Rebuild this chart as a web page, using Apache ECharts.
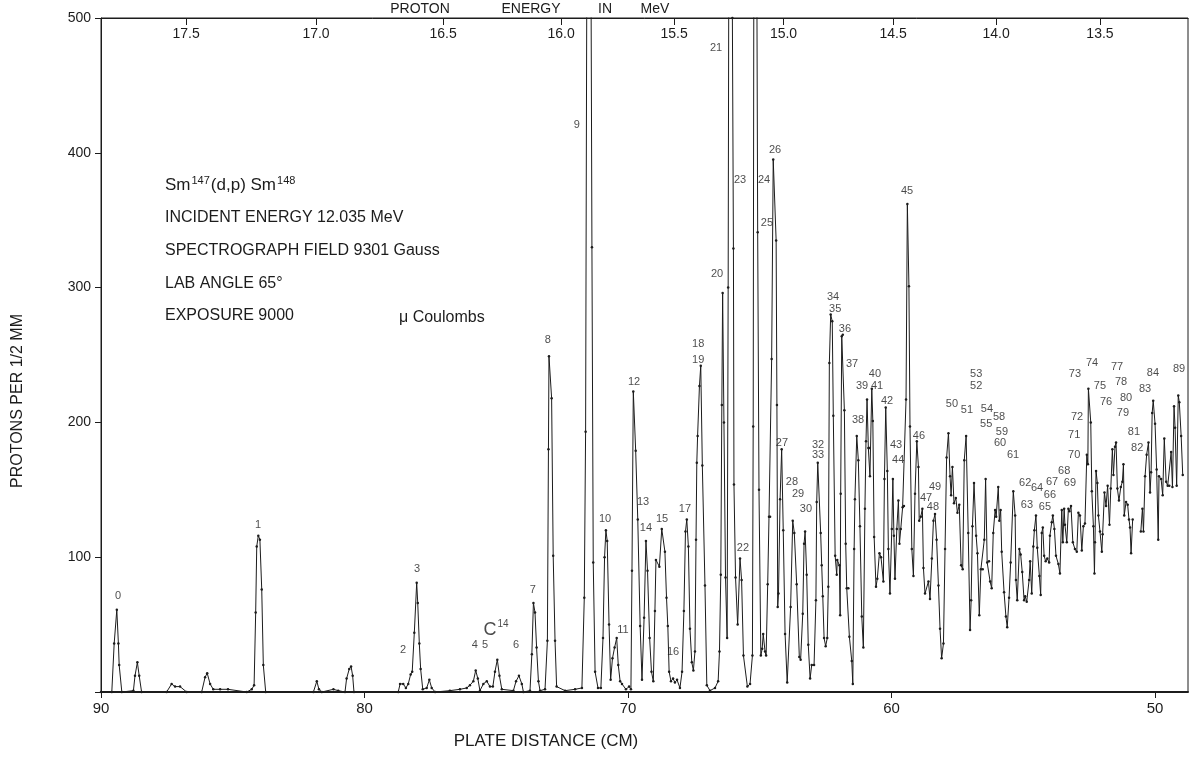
<!DOCTYPE html>
<html>
<head>
<meta charset="utf-8">
<title>Sm147(d,p)Sm148 proton spectrum</title>
<script src="https://cdn.jsdelivr.net/npm/echarts@6.0.0/dist/echarts.min.js"></script>
<style>
  html, body { margin: 0; padding: 0; background: #ffffff; }
  #spectrum { width: 1191px; height: 779px; }
</style>
</head>
<body>
<div id="spectrum"></div>
<script>
// plate distance (cm) and protons per 1/2 mm
var plateCm = [
  // 90 - 73.3 cm : peaks 0 .. 7
  90.00, 89.59, 89.50, 89.40, 89.34, 89.31, 89.21, 88.77, 88.71, 88.62, 88.55, 88.46,
  87.51, 87.32, 87.19, 87.00, 86.75, 86.18, 86.05, 85.97, 85.86, 85.74, 85.48, 85.18,
  84.47, 84.28, 84.19, 84.13, 84.09, 84.03, 83.97, 83.90, 83.84, 83.75, 81.94, 81.81,
  81.73, 81.62, 81.18, 81.00, 80.74, 80.68, 80.58, 80.51, 80.45, 80.40, 78.72, 78.65,
  78.53, 78.43, 78.34, 78.25, 78.19, 78.11, 78.02, 77.98, 77.92, 77.87, 77.79, 77.64,
  77.54, 77.45, 77.32, 76.76, 76.38, 76.12, 76.00, 75.87, 75.78, 75.70, 75.62, 75.49,
  75.36, 75.24, 75.13, 75.05, 74.96, 74.88, 74.79, 74.35, 74.25, 74.14, 74.03, 73.97,
  73.72, 73.65, 73.59, 73.53, 73.47, 73.40, 73.34,
  // 73.3 - 63.5 cm : peaks 8 .. 29
  73.15, 73.06, 73.02, 73.00, 72.90, 72.84, 72.77, 72.71, 72.39, 72.01, 71.75, 71.66,
  71.61, 71.56, 71.48, 71.42, 71.37, 71.32, 71.25, 71.14, 71.03, 70.95, 70.89, 70.84,
  70.79, 70.72, 70.66, 70.59, 70.51, 70.43, 70.37, 70.30, 70.23, 70.08, 69.96, 69.89,
  69.85, 69.80, 69.71, 69.63, 69.54, 69.47, 69.39, 69.32, 69.26, 69.18, 69.11, 69.04,
  68.98, 68.94, 68.81, 68.72, 68.60, 68.54, 68.49, 68.44, 68.37, 68.29, 68.22, 68.14,
  68.03, 67.95, 67.88, 67.82, 67.77, 67.71, 67.65, 67.58, 67.52, 67.46, 67.42, 67.39,
  67.36, 67.29, 67.24, 67.18, 67.08, 67.01, 66.89, 66.70, 66.58, 66.53, 66.48, 66.44,
  66.41, 66.36, 66.30, 66.24, 66.20, 66.15, 66.09, 66.04, 66.00, 65.98, 65.92, 65.84,
  65.75, 65.69, 65.62, 65.47, 65.37, 65.28, 65.25, 65.20, 65.14, 65.08, 65.03, 64.96,
  64.91, 64.87, 64.80, 64.76, 64.70, 64.65, 64.61, 64.55, 64.49, 64.38, 64.35, 64.32,
  64.29, 64.23, 64.17, 64.11, 64.04, 63.96, 63.83, 63.75, 63.69, 63.60, 63.50,
  // 63.5 - 48.9 cm : peaks 30 .. 89
  63.45, 63.37, 63.32, 63.28, 63.22, 63.16, 63.09, 63.03, 62.94, 62.87, 62.84, 62.80,
  62.69, 62.65, 62.61, 62.56, 62.50, 62.44, 62.40, 62.36, 62.31, 62.25, 62.21, 62.14,
  62.08, 62.06, 61.98, 61.95, 61.93, 61.89, 61.85, 61.79, 61.74, 61.70, 61.64, 61.60,
  61.51, 61.47, 61.42, 61.39, 61.32, 61.26, 61.20, 61.13, 61.07, 61.01, 60.97, 60.93,
  60.88, 60.84, 60.82, 60.75, 60.71, 60.66, 60.59, 60.54, 60.46, 60.40, 60.31, 60.27,
  60.22, 60.16, 60.12, 60.06, 59.99, 59.95, 59.91, 59.87, 59.80, 59.74, 59.70, 59.65,
  59.58, 59.53, 59.45, 59.40, 59.34, 59.30, 59.23, 59.17, 59.11, 59.04, 58.98, 58.95,
  58.89, 58.83, 58.79, 58.73, 58.60, 58.54, 58.47, 58.41, 58.35, 58.29, 58.22, 58.16,
  58.10, 58.03, 57.97, 57.91, 57.84, 57.78, 57.74, 57.69, 57.63, 57.56, 57.50, 57.43,
  57.36, 57.30, 57.24, 57.17, 57.09, 57.02, 56.98, 56.93, 56.87, 56.79, 56.74, 56.67,
  56.61, 56.54, 56.48, 56.43, 56.37, 56.30, 56.26, 56.20, 56.14, 56.07, 56.03, 55.95,
  55.91, 55.86, 55.82, 55.73, 55.66, 55.61, 55.54, 55.48, 55.38, 55.31, 55.28, 55.23,
  55.15, 55.10, 55.04, 54.97, 54.93, 54.87, 54.78, 54.74, 54.68, 54.62, 54.58, 54.52,
  54.47, 54.39, 54.34, 54.30, 54.26, 54.21, 54.15, 54.09, 54.02, 53.99, 53.92, 53.88,
  53.82, 53.76, 53.67, 53.61, 53.54, 53.50, 53.45, 53.42, 53.35, 53.29, 53.25, 53.19,
  53.12, 53.04, 52.97, 52.91, 52.85, 52.78, 52.72, 52.66, 52.59, 52.55, 52.53, 52.44,
  52.40, 52.34, 52.30, 52.28, 52.24, 52.19, 52.15, 52.09, 52.02, 51.99, 51.92, 51.86,
  51.80, 51.73, 51.68, 51.62, 51.58, 51.52, 51.48, 51.43, 51.37, 51.30, 51.24, 51.20,
  51.17, 51.10, 51.04, 50.99, 50.95, 50.91, 50.85, 50.72, 50.54, 50.48, 50.44, 50.38,
  50.32, 50.25, 50.19, 50.15, 50.11, 50.07, 50.00, 49.94, 49.88, 49.85, 49.77, 49.71,
  49.65, 49.58, 49.52, 49.46, 49.39, 49.34, 49.28, 49.24, 49.18, 49.12, 49.08, 49.01,
  48.95
];

var protonCounts = [
  0, 0, 36, 61, 36, 20, 0, 1, 12, 22, 12, 0,
  0, 6, 4, 4, 0, 0, 11, 14, 6, 2, 2, 2,
  0, 2, 5, 59, 108, 116, 113, 76, 20, 0, 0, 8,
  2, 0, 2, 1, 0, 10, 17, 19, 12, 0, 0, 6,
  6, 3, 6, 13, 15, 44, 81, 66, 36, 17, 2, 3,
  9, 3, 0, 1, 2, 3, 5, 8, 16, 10, 1, 6,
  8, 4, 4, 15, 24, 12, 2, 1, 8, 12, 6, 0,
  1, 28, 66, 59, 33, 8, 1,

  2, 38, 180, 249, 218, 101, 38, 4, 1, 2, 3, 70,
  193, 560, 760, 620, 330, 96, 15, 3, 3, 40, 100, 120,
  112, 50, 9, 25, 33, 40, 20, 8, 6, 2, 4, 2,
  90, 223, 179, 128, 49, 9, 55, 112, 90, 40, 15, 8,
  60, 98, 93, 121, 104, 70, 49, 15, 8, 10, 7, 9,
  3, 15, 60, 119, 128, 108, 47, 22, 16, 30, 113, 170,
  190, 227, 242, 168, 79, 5, 1, 3, 8, 30, 87, 213,
  296, 200, 85, 40, 300, 800, 700, 500, 329, 154, 85, 50,
  99, 83, 27, 4, 6, 27, 197, 900, 700, 341, 150, 27,
  32, 43, 30, 27, 80, 130, 130, 247, 395, 335, 213, 63,
  73, 143, 180, 120, 43, 7, 63, 127, 118, 80, 26,

  24, 58, 110, 119, 87, 35, 10, 20, 20, 68, 141, 170,
  118, 94, 71, 40, 34, 40, 78, 244, 280, 275, 205, 101,
  87, 98, 94, 57, 147, 264, 265, 209, 110, 77, 77, 41,
  23, 6, 106, 143, 190, 172, 123, 56, 33, 136, 186, 217,
  181, 181, 160, 225, 201, 115, 78, 84, 103, 100, 82, 158,
  211, 164, 106, 73, 121, 158, 116, 84, 121, 142, 110, 121,
  137, 138, 217, 362, 301, 197, 106, 86, 147, 186, 167, 127,
  130, 136, 92, 73, 82, 69, 99, 127, 132, 113, 79, 47,
  25, 36, 106, 174, 192, 160, 146, 167, 140, 144, 133, 139,
  94, 91, 172, 190, 118, 46, 68, 123, 155, 116, 103, 57,
  91, 91, 113, 158, 96, 97, 82, 77, 118, 135, 130, 152,
  127, 135, 104, 74, 56, 48, 70, 96, 149, 131, 83, 68,
  106, 102, 89, 68, 71, 67, 83, 97, 73, 108, 120, 131,
  107, 86, 72, 118, 122, 101, 97, 99, 96, 116, 126, 131,
  121, 101, 95, 88, 135, 111, 136, 124, 111, 136, 134, 138,
  111, 106, 104, 133, 131, 105, 123, 125, 176, 169, 225, 200,
  149, 123, 88, 111, 164, 155, 131, 119, 104, 117, 148, 138,
  153, 124, 151, 180, 161, 182, 185, 151, 142, 152, 156, 169,
  131, 141, 139, 128, 122, 103, 128, null, 119, 136, 119, 160,
  176, 185, 148, 163, 207, 216, 199, 165, 113, 160, 158, 146,
  188, 156, 153, 153, 178, 152, 212, 196, 153, 220, 215, 190,
  161
];

// peak numbers written on the plot, with the spot they sit at
var peakNames = ['0', '1', '2', '3', '4', '5', 'C14', '6', '7', '8', '9', '10', '11', '12', '13', '14',
  '15', '16', '17', '18', '19', '20', '21', '22', '23', '24', '25', '26', '27', '28', '29', '30',
  '32', '33', '34', '35', '36', '37', '38', '39', '40', '41', '42', '43', '44', '45', '46', '47',
  '48', '49', '50', '51', '52', '53', '54', '55', '58', '59', '60', '61', '62', '63', '64', '65',
  '66', '67', '68', '69', '70', '71', '72', '73', '74', '75', '76', '77', '78', '79', '80', '81',
  '82', '83', '84', '89'];
var peakCm = [89.35, 84.04, 78.54, 78.01, 75.81, 75.43, 75.01, 74.25, 73.61, 73.04, 71.94, 70.87, 70.19, 69.77, 69.43, 69.32,
  68.71, 68.29, 67.84, 67.34, 67.34, 66.62, 66.66, 65.64, 65.75, 64.84, 64.73, 64.42, 64.16, 63.78, 63.55, 63.25,
  62.79, 62.79, 62.22, 62.14, 61.77, 61.50, 61.27, 61.12, 60.63, 60.55, 60.17, 59.83, 59.75, 59.41, 58.96, 58.69,
  58.43, 58.35, 57.71, 57.14, 56.79, 56.79, 56.38, 56.41, 55.92, 55.81, 55.88, 55.39, 54.93, 54.86, 54.48, 54.18,
  53.99, 53.91, 53.45, 53.23, 53.07, 53.07, 52.96, 53.04, 52.39, 52.09, 51.86, 51.44, 51.29, 51.22, 51.10, 50.80,
  50.68, 50.38, 50.08, 49.09];
var peakLevel = [71, 124, 31, 91, 35, 35, 46, 35, 76, 261, 421, 128, 46, 230, 141, 122,
  128, 30, 136, 258, 246, 310, 478, 107, 380, 380, 348, 402, 185, 156, 147, 136,
  183, 176, 293, 284, 269, 243, 202, 227, 236, 227, 216, 183, 172, 372, 190, 144,
  137, 152, 214, 209, 227, 236, 210, 199, 204, 193, 185, 176, 155, 139, 151, 137,
  146, 156, 164, 155, 176, 191, 204, 236, 244, 227, 215, 241, 230, 207, 218, 193,
  181, 225, 237, 240];

// bottom and top scales
var plateTicks = [90, 80, 70, 60, 50];
var energyLabels = ['17.5', '17.0', '16.5', '16.0', '15.5', '15.0', '14.5', '14.0', '13.5'];
var energyCm = [86.77, 81.84, 77.02, 72.54, 68.25, 64.10, 59.94, 56.03, 52.09];

var ink = '#1c1c1c';
var font = 'Liberation Sans';

var spectrum = plateCm.map(function (d, i) {
  return [d, protonCounts[i] === null ? '-' : protonCounts[i]];
});
var peakMarks = peakNames.map(function (n, i) {
  return { name: n, value: [peakCm[i], peakLevel[i]] };
});

var chart = echarts.init(document.getElementById('spectrum'));
chart.setOption({
  animation: false,
  backgroundColor: '#ffffff',
  textStyle: { fontFamily: font, color: ink },
  grid: { left: 101, right: 3, top: 18, bottom: 87, show: true, borderColor: ink, borderWidth: 1 },
  xAxis: [
    {
      type: 'value', inverse: true, min: 48.75, max: 90, position: 'bottom',
      axisLine: { show: true, onZero: false, lineStyle: { color: ink, width: 2 } },
      axisTick: { show: true, customValues: plateTicks, length: 6, lineStyle: { color: ink } },
      axisLabel: { customValues: plateTicks, color: ink, fontSize: 15, margin: 9, fontFamily: font },
      splitLine: { show: false }
    },
    {
      type: 'value', inverse: true, min: 48.75, max: 90, position: 'top',
      axisLine: { show: true, onZero: false, lineStyle: { color: ink } },
      axisTick: { show: true, inside: true, customValues: energyCm, length: 7, lineStyle: { color: ink } },
      axisLabel: {
        show: true, inside: true, customValues: energyCm, color: ink, fontSize: 14, margin: 9, fontFamily: font,
        formatter: function (v) {
          for (var i = 0; i < energyCm.length; i++) {
            if (Math.abs(energyCm[i] - v) < 1e-6) return energyLabels[i];
          }
          return '';
        }
      },
      splitLine: { show: false }
    }
  ],
  yAxis: {
    type: 'value', min: 0, max: 500, interval: 100,
    axisLine: { show: true, lineStyle: { color: ink } },
    axisTick: { show: true, length: 6, lineStyle: { color: ink } },
    axisLabel: {
      color: ink, fontSize: 14, margin: 10, fontFamily: font,
      formatter: function (v) { return v === 0 ? '' : v; }
    },
    splitLine: { show: false }
  },
  series: [
    {
      name: 'protons', type: 'line', xAxisIndex: 0, data: spectrum,
      symbol: 'circle', symbolSize: 2.5, showSymbol: true, clip: true, silent: true,
      lineStyle: { color: ink, width: 1 }, itemStyle: { color: ink }, z: 3
    },
    {
      name: 'peaks', type: 'scatter', xAxisIndex: 0, data: peakMarks,
      symbolSize: 1, itemStyle: { color: 'rgba(0,0,0,0)' }, silent: true, z: 4,
      label: {
        show: true, position: 'inside', color: ink, fontSize: 11, fontFamily: font,
        formatter: function (p) { return p.name === 'C14' ? '{c|C}{s|14}' : p.name; },
        rich: {
          c: { fontSize: 18, color: ink, fontFamily: font },
          s: { fontSize: 10, color: ink, fontFamily: font, verticalAlign: 'top', padding: [0, 0, 12, 1] }
        }
      }
    }
  ],
  graphic: [
    // header over the top scale
    { type: 'text', x: 420, y: 9, style: { text: 'PROTON', fontSize: 14, fontFamily: font, fill: ink, align: 'center', verticalAlign: 'middle' } },
    { type: 'text', x: 531, y: 9, style: { text: 'ENERGY', fontSize: 14, fontFamily: font, fill: ink, align: 'center', verticalAlign: 'middle' } },
    { type: 'text', x: 605, y: 9, style: { text: 'IN', fontSize: 14, fontFamily: font, fill: ink, align: 'center', verticalAlign: 'middle' } },
    { type: 'text', x: 655, y: 9, style: { text: 'MeV', fontSize: 14, fontFamily: font, fill: ink, align: 'center', verticalAlign: 'middle' } },
    // experiment notes
    {
      type: 'text', x: 165, y: 185,
      style: {
        text: '{b|Sm}{u|147}{b|(d,p) Sm}{u|148}', fill: ink, verticalAlign: 'middle',
        rich: {
          b: { fontSize: 17, fontFamily: font, fill: ink },
          u: { fontSize: 11, fontFamily: font, fill: ink, verticalAlign: 'top', padding: [0, 1, 8, 1] }
        }
      }
    },
    { type: 'text', x: 165, y: 218, style: { text: 'INCIDENT ENERGY 12.035 MeV', fontSize: 16, fontFamily: font, fill: ink, verticalAlign: 'middle' } },
    { type: 'text', x: 165, y: 251, style: { text: 'SPECTROGRAPH FIELD 9301 Gauss', fontSize: 16, fontFamily: font, fill: ink, verticalAlign: 'middle' } },
    { type: 'text', x: 165, y: 284, style: { text: 'LAB ANGLE 65°', fontSize: 16, fontFamily: font, fill: ink, verticalAlign: 'middle' } },
    { type: 'text', x: 165, y: 316, style: { text: 'EXPOSURE 9000', fontSize: 16, fontFamily: font, fill: ink, verticalAlign: 'middle' } },
    { type: 'text', x: 399, y: 318, style: { text: 'μ Coulombs', fontSize: 16, fontFamily: font, fill: ink, verticalAlign: 'middle' } },
    // axis names
    { type: 'text', x: 18, y: 401, rotation: Math.PI / 2, style: { text: 'PROTONS PER 1/2 MM', fontSize: 16, fontFamily: font, fill: ink, align: 'center', verticalAlign: 'middle' } },
    { type: 'text', x: 546, y: 741, style: { text: 'PLATE DISTANCE (CM)', fontSize: 17, fontFamily: font, fill: ink, align: 'center', verticalAlign: 'middle' } }
  ]
});
</script>
</body>
</html>
